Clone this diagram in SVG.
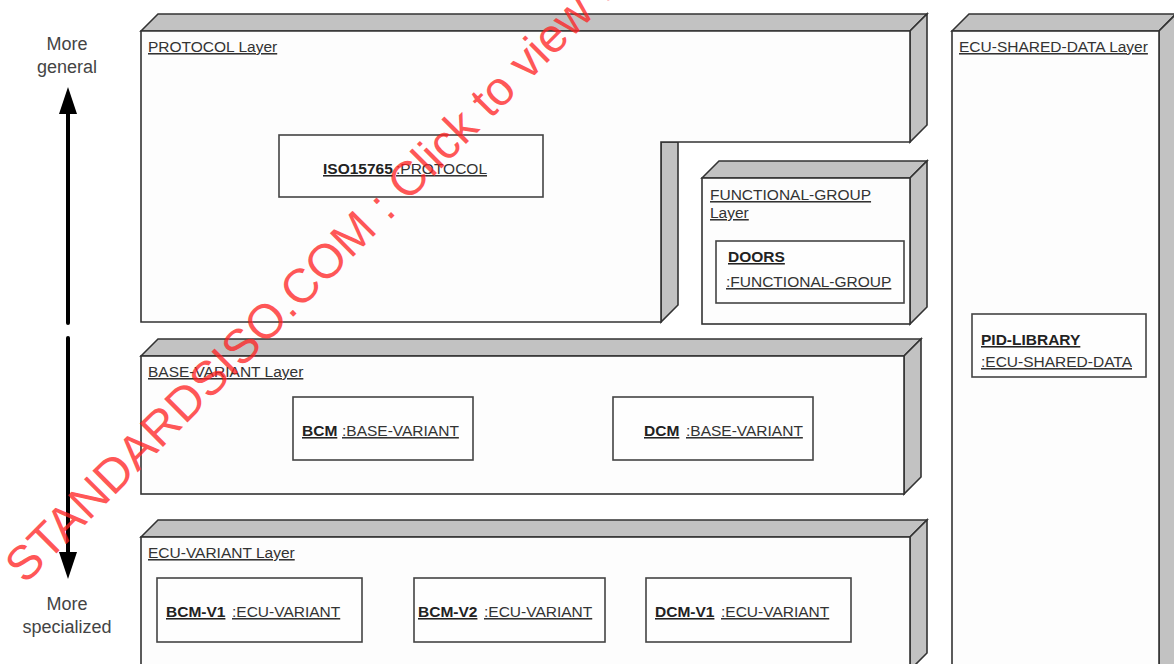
<svg xmlns="http://www.w3.org/2000/svg" width="1174" height="664" viewBox="0 0 1174 664">
<style>
.face{fill:#fdfdfd;stroke:#333;stroke-width:1.6;stroke-linejoin:miter}
.bevel{fill:#c2c2c2;stroke:#333;stroke-width:1.6;stroke-linejoin:miter}
.box{fill:#fefefe;stroke:#444;stroke-width:1.6}
text{font-family:"Liberation Sans",Arial,Helvetica,sans-serif;fill:#333}
.lbl{font-size:15.5px;text-decoration:underline}
.b{font-weight:bold;fill:#222}
.side{font-size:18px;text-anchor:middle;fill:#444}
.wm{font-size:48px;fill:#ff2020;fill-opacity:0.75}
</style>
<rect width="1174" height="664" fill="#ffffff"/>

<g id="protocol-layer">
  <polygon class="bevel" points="141,31 158,14 927,14 910,31"/>
  <polygon class="bevel" points="910,31 927,14 927,125 910,142"/>
  <polygon class="bevel" points="661,142 678,142 678,305 661,322"/>
  <path class="face" d="M141,31 H910 V142 H661 V322 H141 Z"/>
  <text class="lbl" x="148" y="52">PROTOCOL Layer</text>
</g>
<g id="iso15765">
  <rect class="box" x="279" y="135" width="264" height="62"/>
  <text class="lbl b" x="323" y="174">ISO15765</text>
  <text class="lbl" x="396" y="174">:PROTOCOL</text>
</g>

<g id="functional-group-layer">
  <polygon class="bevel" points="702,178 719,161 927,161 910,178"/>
  <polygon class="bevel" points="910,178 927,161 927,307 910,324"/>
  <rect class="face" x="702" y="178" width="208" height="146"/>
  <text class="lbl" x="710" y="200">FUNCTIONAL-GROUP</text>
  <text class="lbl" x="710" y="218">Layer</text>
</g>
<g id="doors">
  <rect class="box" x="716" y="241" width="188" height="62"/>
  <text class="lbl b" x="728" y="262">DOORS</text>
  <text class="lbl" x="726" y="287">:FUNCTIONAL-GROUP</text>
</g>

<g id="ecu-shared-data-layer">
  <polygon class="bevel" points="952,31 969,14 1176,14 1159,31"/>
  <polygon class="bevel" points="1159,31 1176,14 1176,690 1159,700"/>
  <rect class="face" x="952" y="31" width="207" height="660"/>
  <text class="lbl" x="959" y="52">ECU-SHARED-DATA Layer</text>
</g>
<g id="pid-library">
  <rect class="box" x="972" y="314" width="174" height="63"/>
  <text class="lbl b" x="981" y="345">PID-LIBRARY</text>
  <text class="lbl" x="981" y="367">:ECU-SHARED-DATA</text>
</g>

<g id="base-variant-layer">
  <polygon class="bevel" points="141,356 158,339 921,339 904,356"/>
  <polygon class="bevel" points="904,356 921,339 921,477 904,494"/>
  <rect class="face" x="141" y="356" width="763" height="138"/>
  <text class="lbl" x="148" y="377">BASE-VARIANT Layer</text>
</g>
<g id="bcm">
  <rect class="box" x="293" y="397" width="180" height="63"/>
  <text class="lbl b" x="302" y="436">BCM</text>
  <text class="lbl" x="342" y="436">:BASE-VARIANT</text>
</g>
<g id="dcm">
  <rect class="box" x="613" y="397" width="200" height="63"/>
  <text class="lbl b" x="644" y="436">DCM</text>
  <text class="lbl" x="686" y="436">:BASE-VARIANT</text>
</g>

<g id="ecu-variant-layer">
  <polygon class="bevel" points="141,537 158,520 927,520 910,537"/>
  <polygon class="bevel" points="910,537 927,520 927,653 910,670"/>
  <rect class="face" x="141" y="537" width="769" height="133"/>
  <text class="lbl" x="148" y="558">ECU-VARIANT Layer</text>
</g>
<g id="bcm-v1">
  <rect class="box" x="157" y="578" width="205" height="64"/>
  <text class="lbl b" x="166" y="617">BCM-V1</text>
  <text class="lbl" x="232" y="617">:ECU-VARIANT</text>
</g>
<g id="bcm-v2">
  <rect class="box" x="414" y="578" width="191" height="64"/>
  <text class="lbl b" x="418" y="617">BCM-V2</text>
  <text class="lbl" x="484" y="617">:ECU-VARIANT</text>
</g>
<g id="dcm-v1">
  <rect class="box" x="646" y="578" width="205" height="64"/>
  <text class="lbl b" x="655" y="617">DCM-V1</text>
  <text class="lbl" x="721" y="617">:ECU-VARIANT</text>
</g>

<g id="connectors">
  <line x1="68" y1="112" x2="68" y2="323" stroke="#000" stroke-width="4" stroke-linecap="round"/>
  <polygon points="68,87 59,114 77,114" fill="#000"/>
  <line x1="68" y1="338" x2="68" y2="554" stroke="#000" stroke-width="4" stroke-linecap="round"/>
  <polygon points="59,552 77,552 68,579" fill="#000"/>
</g>
<g id="axis-labels">
  <text class="side" x="67" y="50">More</text>
  <text class="side" x="67" y="73">general</text>
  <text class="side" x="67" y="610">More</text>
  <text class="side" x="67" y="633">specialized</text>
</g>

<g id="watermark">
  <text class="wm" transform="translate(25,585) rotate(-45)">STANDARDSISO.COM : Click to view the full PDF</text>
</g>
</svg>
